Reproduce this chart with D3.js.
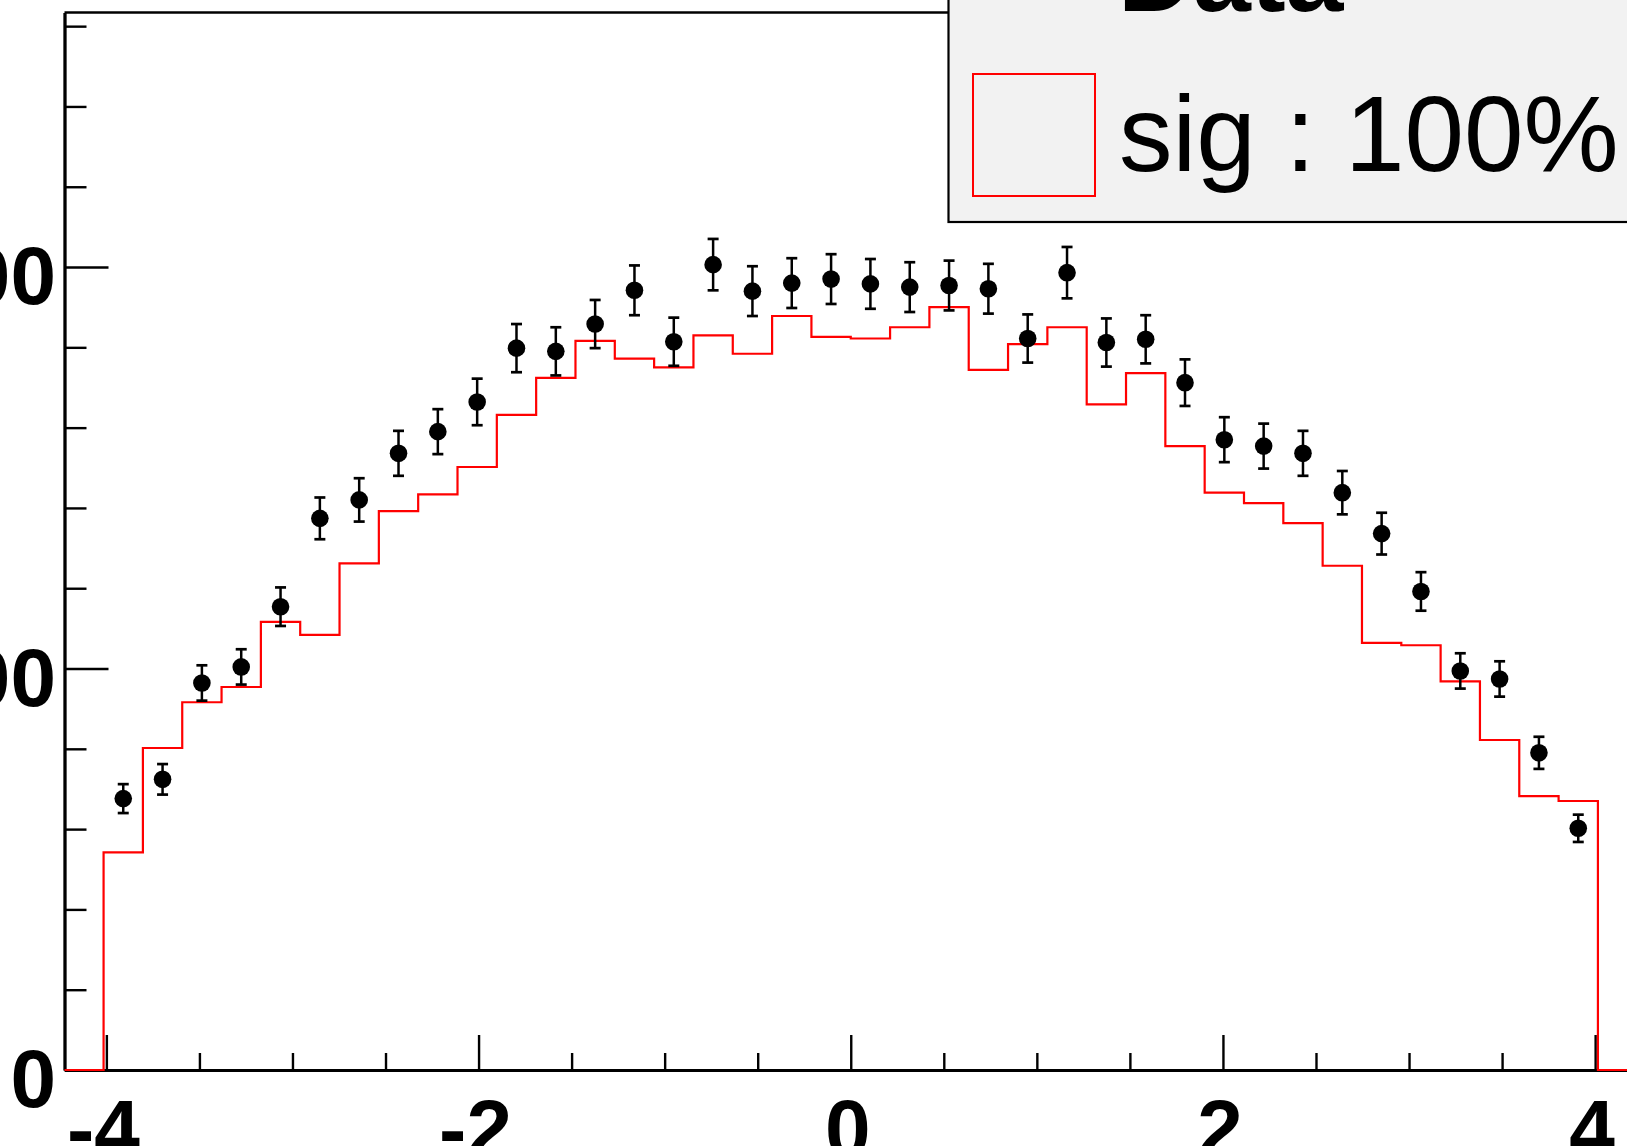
<!DOCTYPE html>
<html><head><meta charset="utf-8">
<script src="https://cdn.jsdelivr.net/npm/d3@7"></script>
<style>html,body{margin:0;padding:0;background:#fff;overflow:hidden}</style>
</head><body><svg id="c" width="1627" height="1146"></svg>
<script>
// ---- data ----
const histRange = [-4.015, 4.015];   // histogram bin range (38 bins)
const dataValues = [338, 362, 482, 502, 577, 687, 710, 768, 795, 832, 899, 895, 929, 971, 907, 1003, 970, 980, 985, 979, 975, 977, 973, 911, 993, 906, 910, 856, 785, 777, 768, 719, 668, 596, 497, 487, 395, 301];
const dataErrors = [18, 19, 22, 22, 24, 26, 27, 28, 28, 29, 30, 30, 30, 31, 30, 32, 31, 31, 31, 31, 31, 31, 31, 30, 32, 30, 30, 29, 28, 28, 28, 27, 26, 24, 22, 22, 20, 17];
const sigValues = [271, 401, 458, 477, 558, 542, 631, 696, 717, 751, 816, 862, 908, 886, 875, 915, 892, 939, 913, 911, 925, 950, 872, 904, 925, 829, 868, 777, 719, 706, 681, 628, 532, 529, 484, 411, 341, 335];
const xMajorTicks = [-4, -2, 0, 2, 4];
const xTickLabels = ["-4", "-2", "0", "2", "4"];
const xMinorTicks = [-3.5, -3, -2.5, -1.5, -1, -0.5, 0.5, 1, 1.5, 2.5, 3, 3.5];
const yMajorTicks = [0, 500, 1000];
const yTickLabels = ["0", "500", "1000"];
const yMinorTicks = [100, 200, 300, 400, 600, 700, 800, 900, 1100, 1200, 1300];
const legendLabels = ["Data", "sig : 100%"];

// ---- layout ----
const svg = d3.select("#c");
const x = d3.scaleLinear().domain([-4.225, 4.225]).range([64.5, 1637]);
const y = d3.scaleLinear().domain([0, 1317]).range([1070, 12.5]);
const nBins = sigValues.length;
const bw = (histRange[1] - histRange[0]) / nBins;
const edge = i => histRange[0] + i * bw;

// histogram (step line)
const pts = [[x.range()[0], y(0)], [x(edge(0)), y(0)]];
sigValues.forEach((v, i) => { pts.push([x(edge(i)), y(v)]); pts.push([x(edge(i + 1)), y(v)]); });
pts.push([x(edge(nBins)), y(0)]);
pts.push([x.range()[1], y(0)]);

// frame axes
const ax = svg.append("g");
ax.append("g").attr("transform", `translate(0,${y(0)})`)
  .call(d3.axisBottom(x).tickValues(xMinorTicks).tickSize(-17).tickSizeOuter(0).tickFormat(""));
ax.append("g").attr("transform", `translate(0,${y(0)})`)
  .call(d3.axisBottom(x).tickValues(xMajorTicks).tickSize(-35).tickSizeOuter(0).tickFormat(""));
ax.append("g").attr("transform", `translate(${x.range()[0]},0)`)
  .call(d3.axisLeft(y).tickValues(yMinorTicks).tickSize(-22).tickSizeOuter(0).tickFormat(""));
ax.append("g").attr("transform", `translate(${x.range()[0]},0)`)
  .call(d3.axisLeft(y).tickValues(yMajorTicks).tickSize(-44).tickSizeOuter(0).tickFormat(""));
ax.selectAll("path.domain").attr("stroke", "#000").attr("stroke-width", 2.8);
ax.selectAll("line").attr("stroke", "#000").attr("stroke-width", 2.4);
ax.append("line").attr("x1", x.range()[0]).attr("x2", x.range()[1]).attr("y1", y.range()[1]).attr("y2", y.range()[1])
  .attr("stroke", "#000").attr("stroke-width", 2.4);

svg.append("path").attr("d", d3.line()(pts)).attr("fill", "none")
  .attr("stroke", "#ff0000").attr("stroke-width", 2.2);

// data points with error bars
const g = svg.append("g");
dataValues.forEach((v, i) => {
  const cx = x(edge(i) + bw / 2), e = dataErrors[i];
  g.append("line").attr("x1", cx).attr("x2", cx).attr("y1", y(v - e)).attr("y2", y(v + e))
    .attr("stroke", "#000").attr("stroke-width", 2.5);
  [v - e, v + e].forEach(t => g.append("line").attr("x1", cx - 5.5).attr("x2", cx + 5.5)
    .attr("y1", y(t)).attr("y2", y(t)).attr("stroke", "#000").attr("stroke-width", 2.7));
  g.append("circle").attr("cx", cx).attr("cy", y(v)).attr("r", 8.8).attr("fill", "#000");
});

// tick labels
const lab = svg.append("g").attr("font-family", "'Liberation Sans', Arial, sans-serif")
  .attr("font-weight", "bold").attr("font-size", 82).attr("fill", "#000");
xMajorTicks.forEach((t, i) => lab.append("text").attr("x", x(t) - 3).attr("y", 1157)
  .attr("text-anchor", "middle").text(xTickLabels[i]));
yMajorTicks.forEach((t, i) => lab.append("text").attr("x", 56).attr("y", y(t) + 37)
  .attr("text-anchor", "end").text(yTickLabels[i]));

// legend
const lg = svg.append("g");
lg.append("rect").attr("x", 948.5).attr("y", -60).attr("width", 720).attr("height", 282)
  .attr("fill", "#f2f2f2").attr("stroke", "#000").attr("stroke-width", 2.2);
lg.append("rect").attr("x", 973).attr("y", 74).attr("width", 122).attr("height", 122)
  .attr("fill", "none").attr("stroke", "#ff0000").attr("stroke-width", 2);
lg.append("text").attr("x", 1118).attr("y", 11).attr("font-family", "'Liberation Sans', Arial, sans-serif")
  .attr("font-weight", "bold").attr("font-size", 104).text(legendLabels[0]);
lg.append("text").attr("x", 1119).attr("y", 171).attr("font-family", "'Liberation Sans', Arial, sans-serif")
  .attr("font-size", 107).text(legendLabels[1]);
</script>
</body></html>
